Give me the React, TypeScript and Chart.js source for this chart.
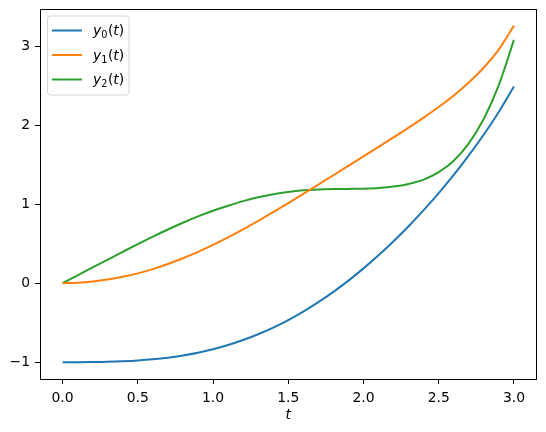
import React, { useEffect, useRef } from "react";
import { Chart, registerables } from "chart.js";

Chart.register(...registerables);

const tValues = [0, 0.1, 0.2, 0.3, 0.4, 0.5, 0.6, 0.7, 0.8, 0.9, 1.0, 1.1, 1.2, 1.3, 1.4, 1.5, 1.6, 1.7, 1.8, 1.9, 2.0, 2.1, 2.2, 2.3, 2.4, 2.5, 2.6, 2.7, 2.8, 2.9, 3.0];
const y0Values = [-1.0, -1.0, -0.999, -0.996, -0.989, -0.979, -0.964, -0.943, -0.915, -0.88, -0.836, -0.783, -0.72, -0.647, -0.563, -0.467, -0.36, -0.241, -0.11, 0.032, 0.187, 0.353, 0.531, 0.721, 0.924, 1.14, 1.37, 1.617, 1.882, 2.17, 2.49];
const y1Values = [0.0, 0.005, 0.02, 0.045, 0.08, 0.124, 0.178, 0.242, 0.315, 0.396, 0.484, 0.58, 0.681, 0.788, 0.899, 1.013, 1.13, 1.248, 1.366, 1.485, 1.604, 1.724, 1.845, 1.968, 2.096, 2.23, 2.376, 2.54, 2.73, 2.96, 3.26];
const y2Values = [0.0, 0.1, 0.2, 0.299, 0.397, 0.494, 0.588, 0.679, 0.765, 0.845, 0.917, 0.98, 1.038, 1.087, 1.126, 1.155, 1.175, 1.186, 1.191, 1.193, 1.196, 1.204, 1.222, 1.256, 1.31, 1.405, 1.55, 1.77, 2.08, 2.51, 3.08];

const xTicks = [0, 0.5, 1.0, 1.5, 2.0, 2.5, 3.0];
const yTicks = [-1, 0, 1, 2, 3];
const seriesSubscripts = ["0", "1", "2"];
const seriesColors = ["#1f77b4", "#ff7f0e", "#2ca02c"];
const xTitle = "t";

const FONT = "'DejaVu Sans', sans-serif";
const FS = 13.9;

const frameAndLegend = {
  id: "frameAndLegend",
  afterDraw(chart: any) {
    const ctx = chart.ctx;
    const a = chart.chartArea;
    ctx.save();
    ctx.strokeStyle = "#000";
    ctx.lineWidth = 1;
    const l = Math.floor(a.left) + 0.5;
    const t = Math.floor(a.top) + 0.5;
    const r = Math.floor(a.right) + 0.5;
    const b = Math.floor(a.bottom) + 0.5;
    ctx.strokeRect(l, t, r - l, b - t);

    const bx = a.left + 7.5;
    const by = a.top + 7;
    const bw = 81.5;
    const bh = 79;
    const rad = 3;
    ctx.beginPath();
    ctx.moveTo(bx + rad, by);
    ctx.lineTo(bx + bw - rad, by);
    ctx.quadraticCurveTo(bx + bw, by, bx + bw, by + rad);
    ctx.lineTo(bx + bw, by + bh - rad);
    ctx.quadraticCurveTo(bx + bw, by + bh, bx + bw - rad, by + bh);
    ctx.lineTo(bx + rad, by + bh);
    ctx.quadraticCurveTo(bx, by + bh, bx, by + bh - rad);
    ctx.lineTo(bx, by + rad);
    ctx.quadraticCurveTo(bx, by, bx + rad, by);
    ctx.closePath();
    ctx.fillStyle = "rgba(255,255,255,0.8)";
    ctx.fill();
    ctx.strokeStyle = "#d6d6d6";
    ctx.lineWidth = 1;
    ctx.stroke();

    chart.data.datasets.forEach((ds: any, i: number) => {
      const cy = by + 14.5 + i * 24.5;
      ctx.beginPath();
      ctx.strokeStyle = ds.borderColor;
      ctx.lineWidth = 2;
      ctx.moveTo(bx + 4.5, cy);
      ctx.lineTo(bx + 34.5, cy);
      ctx.stroke();
      ctx.fillStyle = "#000";
      ctx.textBaseline = "alphabetic";
      ctx.textAlign = "left";
      let x = bx + 45.5;
      const base = cy + 4.5;
      ctx.font = `italic ${FS}px ${FONT}`;
      ctx.fillText("y", x, base);
      x += ctx.measureText("y").width;
      ctx.font = `${FS * 0.7}px ${FONT}`;
      ctx.fillText(ds.subscript, x, base + 3);
      x += ctx.measureText(ds.subscript).width + 0.5;
      ctx.font = `${FS}px ${FONT}`;
      ctx.fillText("(", x, base);
      x += ctx.measureText("(").width;
      ctx.font = `italic ${FS}px ${FONT}`;
      ctx.fillText(xTitle, x, base);
      x += ctx.measureText(xTitle).width;
      ctx.font = `${FS}px ${FONT}`;
      ctx.fillText(")", x, base);
    });
    ctx.restore();
  },
};

export default function App() {
  const ref = useRef<HTMLCanvasElement | null>(null);
  useEffect(() => {
    document.body.style.margin = "0";
    const canvas = ref.current;
    if (!canvas) return;
    const mk = (vals: number[], i: number) => ({
      label: `y${seriesSubscripts[i]}(t)`,
      subscript: seriesSubscripts[i],
      data: tValues.map((t, k) => ({ x: t, y: vals[k] })),
      borderColor: seriesColors[i],
      backgroundColor: seriesColors[i],
      borderWidth: 2,
      pointRadius: 0,
      cubicInterpolationMode: "monotone",
      fill: false,
    });
    const chart = new Chart(canvas, {
      type: "line",
      data: {
        datasets: [mk(y0Values, 0), mk(y1Values, 1), mk(y2Values, 2)] as any,
      },
      plugins: [frameAndLegend],
      options: {
        animation: false,
        responsive: false,
        maintainAspectRatio: false,
        layout: { padding: { left: 0, top: 9, right: 9.5, bottom: 0 } },
        plugins: {
          legend: { display: false },
          tooltip: { enabled: false },
        },
        scales: {
          x: {
            type: "linear",
            min: -0.15,
            max: 3.15,
            afterFit: (s: any) => {
              s.height = 53;
              s.paddingLeft = 0;
              s.paddingRight = 0;
            },
            afterBuildTicks: (s: any) => {
              s.ticks = xTicks.map((v) => ({ value: v }));
            },
            border: { display: false },
            grid: {
              display: true,
              drawOnChartArea: false,
              drawTicks: true,
              tickLength: 5,
              color: "#000",
              lineWidth: 1,
            },
            ticks: {
              padding: 6,
              color: "#000",
              maxRotation: 0,
              font: { family: FONT, size: FS },
              callback: (v: any) => Number(v).toFixed(1),
            },
            title: {
              display: true,
              text: xTitle,
              color: "#000",
              font: { family: FONT, size: FS, style: "italic" },
              padding: { top: 0, bottom: 8 },
            },
          },
          y: {
            type: "linear",
            min: -1.213,
            max: 3.47,
            afterFit: (s: any) => {
              s.width = 40;
              s.paddingTop = 0;
              s.paddingBottom = 0;
            },
            afterBuildTicks: (s: any) => {
              s.ticks = yTicks.map((v) => ({ value: v }));
            },
            border: { display: false },
            grid: {
              display: true,
              drawOnChartArea: false,
              drawTicks: true,
              tickLength: 5,
              color: "#000",
              lineWidth: 1,
            },
            ticks: {
              padding: 5,
              color: "#000",
              font: { family: FONT, size: FS },
              callback: (v: any) => (Number(v) < 0 ? "\u2212" + Math.abs(Number(v)) : String(v)),
            },
          },
        },
      } as any,
    });
    return () => chart.destroy();
  }, []);
  return (
    <div style={{ position: "absolute", left: 0, top: 0, width: 546, height: 432, background: "#fff" }}>
      <canvas ref={ref} width={546} height={432} style={{ display: "block" }} />
    </div>
  );
}
